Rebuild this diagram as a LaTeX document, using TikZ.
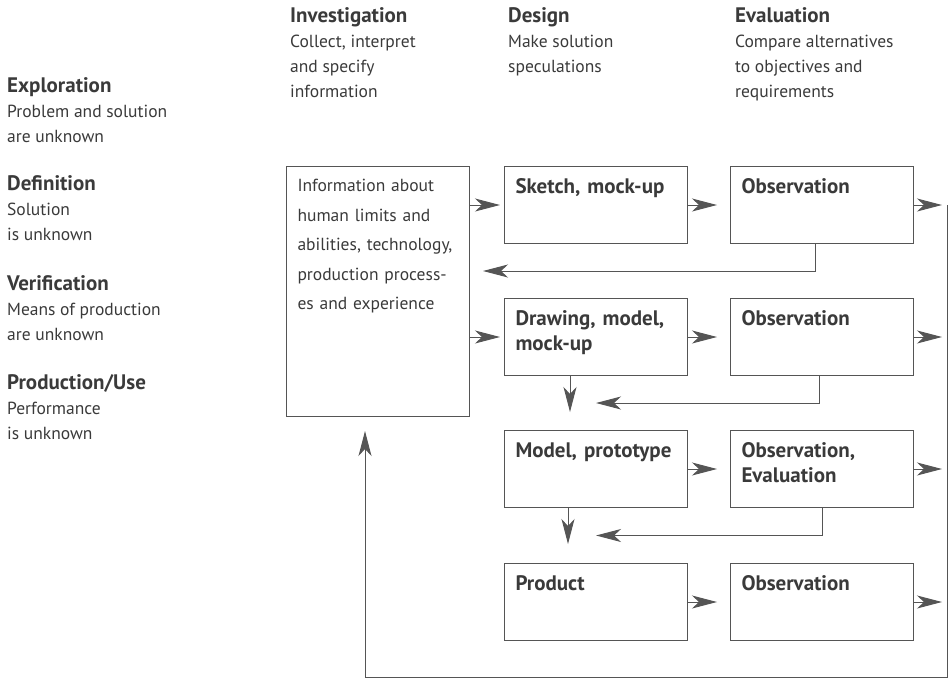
\documentclass[tikz,border=0pt]{standalone}
\usepackage{fontspec}
\setmainfont{PT Sans}
\usetikzlibrary{arrows.meta,calc}

\definecolor{ink}{HTML}{3A3A3A}
\definecolor{rule}{HTML}{555555}

\newcommand{\hd}[1]{\textbf{\fontsize{21}{25}\selectfont #1}}

\tikzset{
  txt/.style={anchor=base west, inner sep=0pt, align=left, text=ink,
    font=\fontsize{17.5}{25}\selectfont},
  box/.style={draw=rule, line width=1pt, anchor=north west, inner xsep=11pt,
    inner ysep=0pt, text width=161pt, align=left, text height=27pt,
    text depth=50pt, text=ink, font=\fontsize{21}{25}\selectfont\bfseries},
  ln/.style={draw=rule, line width=1pt},
  arr/.style={ln, -{Stealth[length=25pt,width=13pt,inset=7pt]}}
}

\begin{document}
\begin{tikzpicture}[x=1pt,y=-1pt]
\useasboundingbox (0,0) rectangle (951,681);

% column heads (anchored at the last line)
\node[txt] (invest) at (290,97) {\hd{Investigation}\\Collect, interpret\\and specify\\information};
\node[txt] (design) at (508,72) {\hd{Design}\\Make solution\\speculations};
\node[txt] (evalu) at (735,97) {\hd{Evaluation}\\Compare alternatives\\to objectives and\\requirements};

% phases
\node[txt] (explor) at (7,142) {\hd{Exploration}\\Problem and solution\\are unknown};
\node[txt] (defin) at (7,240) {\hd{Definition}\\Solution\\is unknown};
\node[txt] (verif) at (7,340) {\hd{Verification}\\Means of production\\are unknown};
\node[txt] (produse) at (7,439) {\hd{Production/Use}\\Performance\\is unknown};

% boxes
\node[box, text height=25pt, text depth=225pt, font=\fontsize{17.5}{29.5}\selectfont] (info) at (286,166)
  {Information about\\human limits and\\abilities, technology,\\production process-\\es and experience};
\node[box] (sketch) at (504,166) {Sketch, mock-up};
\node[box] (obsA) at (730,166) {Observation};
\node[box] (drawing) at (504,298) {Drawing, model,\\mock-up};
\node[box] (obsB) at (730,298) {Observation};
\node[box] (model) at (504,430) {Model, prototype};
\node[box] (obsC) at (730,430) {Observation,\\Evaluation};
\node[box] (product) at (504,563) {Product};
\node[box] (obsD) at (730,563) {Observation};

\coordinate (rail) at (947,0);
\coordinate (foot) at (365,677);
\coordinate (gapA) at ($(obsA.south)!0.5!(obsB.north)$);
\coordinate (gapB) at ($(obsB.south)!0.5!(obsC.north)$);
\coordinate (gapC) at ($(obsC.south)!0.5!(obsD.north)$);

% forward arrows
\draw[arr, shorten >=4pt] (info.east |- sketch.west) -- (sketch.west);
\draw[arr, shorten >=4pt] (info.east |- drawing.west) -- (drawing.west);
\draw[arr, shorten >=13pt] (sketch) -- (obsA);
\draw[arr, shorten >=13pt] (drawing) -- (obsB);
\draw[arr, shorten >=13pt] (model) -- (obsC);
\draw[arr, shorten >=13pt] (product) -- (obsD);
\draw[arr, shorten >=5pt] (obsA.east) -- (obsA.east -| rail);
\draw[arr, shorten >=5pt] (obsB.east) -- (obsB.east -| rail);
\draw[arr, shorten >=5pt] (obsC.east) -- (obsC.east -| rail);
\draw[arr, shorten >=5pt] (obsD.east) -- (obsD.east -| rail);

% down arrows
\draw[arr] ([xshift=-26pt]drawing.south) -- ++(0,36);
\draw[arr] ([xshift=-28pt]model.south) -- ++(0,36);

% feedback
\draw[arr, shorten >=13pt] ([xshift=-7pt]obsA.south) |- (gapA -| info.east);
\draw[arr] ([xshift=-3pt]obsB.south) |- (gapB -| drawing);
\draw[arr] (obsC.south) |- (gapC -| model);

% big loop
\draw[arr, shorten >=14pt] (obsA.east -| rail) -- (rail |- foot) -- (foot) -- (foot |- info.south);
\end{tikzpicture}
\end{document}
